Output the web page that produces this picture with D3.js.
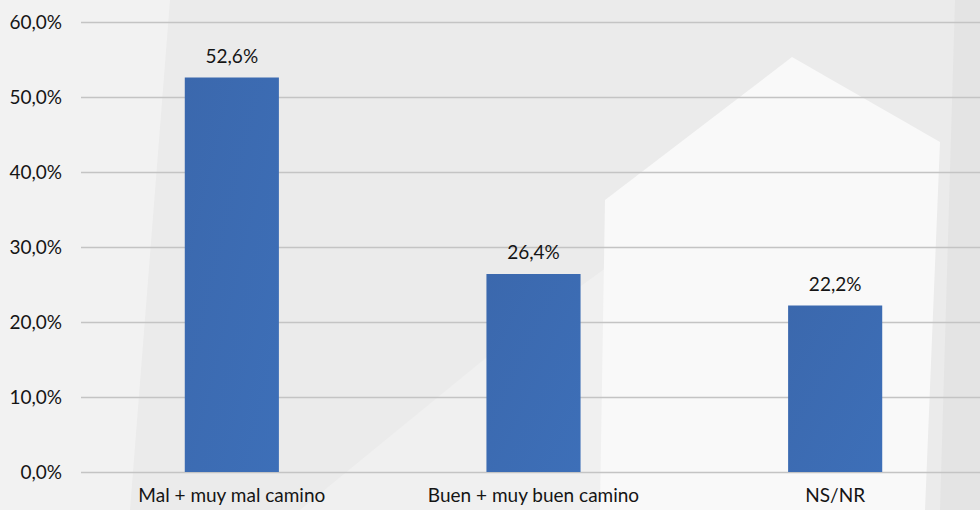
<!DOCTYPE html>
<html>
<head>
<meta charset="utf-8">
<script src="https://d3js.org/d3.v7.min.js"></script>
<style>
body { margin: 0; background: #ebebeb; }
svg { display: block; }
.axis text { font-family: Lato, "Open Sans", sans-serif; font-size: 19px; fill: #151515; }
.label { font-family: Lato, "Open Sans", sans-serif; font-size: 19px; fill: #151515; }
</style>
</head>
<body>
<div id="chart"></div>
<script>
// data
var categories = ["Mal + muy mal camino", "Buen + muy buen camino", "NS/NR"];
var values = [52.6, 26.4, 22.2];
var valueLabels = ["52,6%", "26,4%", "22,2%"];
var ticks = [0, 10, 20, 30, 40, 50, 60];
var tickLabels = ["0,0%", "10,0%", "20,0%", "30,0%", "40,0%", "50,0%", "60,0%"];

var W = 980, H = 510;
var svg = d3.select("#chart").append("svg").attr("width", W).attr("height", H);

// background decoration
var bg = svg.append("g");
bg.append("rect").attr("width", W).attr("height", H).attr("fill", "#ebebeb");
bg.append("path").attr("d", "M0,0 L170,0 L130,510 L0,510 Z").attr("fill", "#f2f2f2");
bg.append("path").attr("d", "M300,510 L520,330 L700,200 L620,510 Z").attr("fill", "#f0f0f0");
bg.append("path").attr("d", "M605,200 L792,57 L940,142 L925,510 L600,510 Z").attr("fill", "#f9f9f9");
bg.append("path").attr("d", "M795,0 L980,0 L980,60 L955,0 Z").attr("fill", "#f0f0f0");
bg.append("path").attr("d", "M955,0 L980,0 L980,510 L940,510 Z").attr("fill", "#e4e4e4");

var x = d3.scaleBand().domain(categories).range([81, 986]).padding(0);
var y = d3.scaleLinear().domain([0, 60]).range([472, 22]);
var barW = x.step() * 0.312;

// gridlines
svg.append("g").selectAll("line").data(ticks).enter().append("line")
    .attr("x1", 81).attr("x2", W)
    .attr("y1", function(d) { return y(d) + 0.5; })
    .attr("y2", function(d) { return y(d) + 0.5; })
    .attr("stroke", "#c4c4c4").attr("stroke-width", 1.5);

// y axis labels
var ya = svg.append("g").attr("class", "axis")
    .attr("transform", "translate(80,0)")
    .call(d3.axisLeft(y).tickValues(ticks).tickSize(0).tickPadding(18)
        .tickFormat(function(d, i) { return tickLabels[i]; }));
ya.select(".domain").remove();

// x axis labels
var xa = svg.append("g").attr("class", "axis")
    .attr("transform", "translate(0,472)")
    .call(d3.axisBottom(x).tickSize(0).tickPadding(17));
xa.select(".domain").remove();

var defs = svg.append("defs");
var grad = defs.append("linearGradient").attr("id", "barg")
    .attr("x1", "0").attr("y1", "0").attr("x2", "1").attr("y2", "1");
grad.append("stop").attr("offset", "0").attr("stop-color", "#3b68ad");
grad.append("stop").attr("offset", "1").attr("stop-color", "#3d6fb8");

svg.append("g").selectAll("rect").data(values).enter().append("rect")
    .attr("x", function(d, i) { return x(categories[i]) + (x.bandwidth() - barW) / 2; })
    .attr("y", function(d) { return y(d); })
    .attr("width", barW)
    .attr("height", function(d) { return y(0) - y(d); })
    .attr("fill", "url(#barg)");

svg.append("g").selectAll("text").data(values).enter().append("text")
    .attr("class", "label")
    .attr("text-anchor", "middle")
    .attr("x", function(d, i) { return x(categories[i]) + x.bandwidth() / 2; })
    .attr("y", function(d) { return y(d) - 15; })
    .text(function(d, i) { return valueLabels[i]; });
</script>
</body>
</html>
